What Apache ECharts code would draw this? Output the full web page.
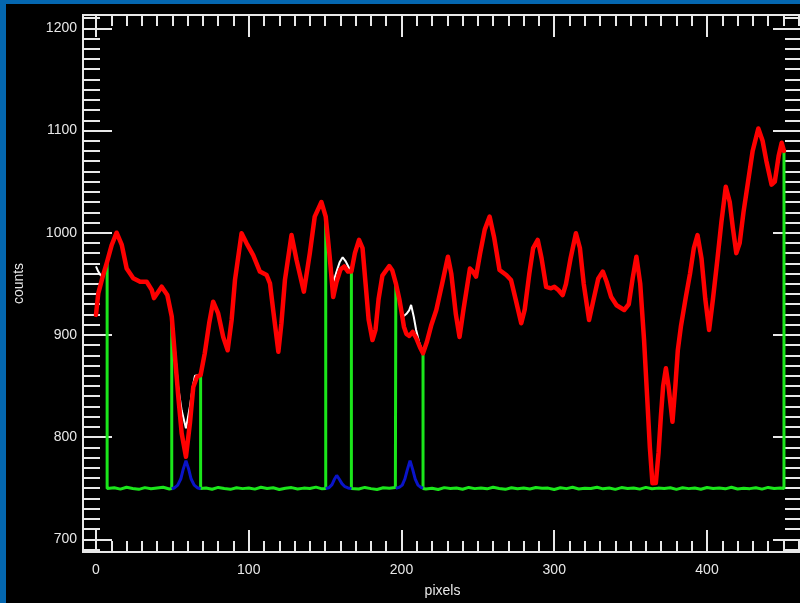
<!DOCTYPE html>
<html><head><meta charset="utf-8">
<script src="https://cdn.jsdelivr.net/npm/echarts@6/dist/echarts.min.js"></script>
<style>
html,body{margin:0;padding:0;background:#000;}
#c{position:absolute;left:0;top:0;width:800px;height:603px;}
#bl{position:absolute;left:0;top:0;width:6px;height:603px;background:#0467b0;}
#bt{position:absolute;left:0;top:0;width:800px;height:4px;background:#0467b0;}
</style>
</head><body><div id="c"></div><div id="bl"></div><div id="bt"></div>
<script>
// ---- data ----
const xTickLabels = [0, 100, 200, 300, 400];
const yTickLabels = [700, 800, 900, 1000, 1100, 1200];

const redX = [0, 1.5, 4.4, 7.3, 10.3, 13.5, 16.9, 20.1, 24.4, 28.9,
  33.2, 36.5, 38, 43, 46.7, 49.6, 51.7, 53.9, 56.1, 58.9,
  61.5, 63.7, 66.2, 68.5, 71.2, 74.1, 76.7, 80, 83.3, 86.2,
  88.8, 91, 95.3, 98.6, 102.9, 107.3, 111.7, 113.9, 116, 119.4,
  121.4, 123.7, 128, 131.3, 136.1, 140, 143.2, 147.6, 150.4, 153,
  155.3, 157.5, 160, 162.5, 165, 167.2, 169.5, 172.2, 174.5, 176.5,
  178.5, 181, 183, 185, 187.5, 192, 194, 196.3, 198.6, 200,
  201.6, 203.2, 205.1, 207.3, 209.6, 212.1, 214.1, 216.6, 219.6, 222.8,
  226.6, 230.4, 232.6, 235.6, 238, 240.6, 244.8, 246.8, 248.8, 251.5,
  254.5, 257.7, 260.7, 264.2, 268.6, 271.7, 274.7, 278.4, 280.7, 283.7,
  286.2, 289.2, 291.7, 294.7, 297.9, 300.1, 302.7, 305.5, 307.7, 310.7,
  314.2, 316.8, 319.3, 322.8, 325.8, 328.8, 331.8, 334.3, 337.2, 340.8,
  345.8, 348.8, 351.3, 353.8, 356.3, 358.8, 360.8, 362.6, 364.3, 366.5,
  368.3, 369.8, 371.3, 373.1, 374.8, 377.4, 379.3, 380.9, 382.9, 386.2,
  388.9, 391.4, 393.8, 396.4, 398.9, 401.4, 403.9, 406.9, 409.4, 412.3,
  414.9, 416.9, 419.2, 421.4, 423.9, 426.9, 429.9, 433.6, 436.4, 438.9,
  442.3, 444.4, 446.9, 448.9, 450.4];
const redY = [919.6, 940.7, 957, 971.6, 988, 1000, 988, 965, 955.4, 952,
  952, 944, 936, 947.2, 939, 918, 878.7, 839.5, 803.7, 780.8,
  813.5, 849, 859, 860.8, 882, 911.4, 932.5, 921, 898, 885,
  914.6, 953.7, 999.4, 989.6, 978, 962, 958.6, 950.5, 924.4, 883.6,
  911.4, 953.7, 997.7, 973.3, 942.3, 980, 1015.7, 1030, 1015.7, 976.5,
  937, 952, 964, 967, 962, 962, 980, 993, 985, 950,
  915, 895, 905, 935, 958, 967.4, 963, 950.5, 935, 922.7,
  908, 901, 899, 903, 897, 888, 882, 893, 910, 924.4,
  950, 976.5, 960, 920, 898, 925, 965, 962, 957, 980,
  1003, 1015.7, 995, 963.5, 958.6, 953.7, 935, 911.4, 925, 960,
  985, 993, 975, 947, 945.6, 947, 944, 939, 950, 975,
  999.4, 985, 950, 914.6, 935, 955, 962, 952, 937.4, 929,
  924.4, 930, 955, 976.5, 950, 895, 840, 790, 754.8, 755,
  785, 820, 850, 867.3, 850, 815, 850, 885, 908, 937.4,
  960, 985, 997.7, 975, 935, 904.8, 935, 975, 1010, 1045,
  1030, 1005, 980, 990, 1020, 1050, 1080, 1102, 1090, 1070,
  1047, 1050, 1075, 1088, 1080];

// raw data where it differs from the corrected (red) curve; null = gap
const whiteX = [0, 1.5, 3, 4.4, null,
  49.6, 51.7, 53.8, 56.1, 58.9, 61.5, 63.7, 64.8, 68.5, null,
  153, 155.3, 157.5, 159.5, 161.5, 163.5, 165.5, 167.2, null,
  196.3, 198.6, 200, 201.5, 203.5, 205, 206.3, 208, 209.6, 211.5, 214.1];
const whiteY = [967, 962, 958.5, 957, null,
  918, 885, 849, 826, 808.6, 830, 852, 860, 860.8, null,
  976.5, 951, 962, 971, 976, 972, 966, 962, null,
  950.5, 935, 922.7, 918.5, 921, 924, 929.3, 918, 904.8, 893, 882];

// fitted line profiles (blue)
const blueX = [49.6, 51.5, 53.5, 55.5, 57, 58.9, 60.8, 62.3, 64.3, 66.3, 68.5, null,
  150.4, 152.5, 154.5, 156, 157.6, 159.2, 161, 163, 165, 167.2, null,
  196.3, 198.5, 200.5, 202.2, 203.8, 205.6, 207.4, 209, 210.8, 212.7, 214.1];
const blueY = [749.5, 750.5, 753, 759, 768, 777, 768, 759, 753, 750.5, 749.5, null,
  749.8, 750.5, 753.5, 758.5, 762.5, 759, 754.5, 751.5, 750.3, 749.6, null,
  750, 750.8, 753, 759, 768, 777, 768, 759, 753, 750.8, 750];

// continuum (green) baseline, sampled every 4 pixels from x=8
const baseStart = 8, baseStep = 4;
const baseY = [749.6, 750.4, 749.1, 750.9, 749.8, 748.9, 750.6, 749.4, 750.2, 751.0,
  749.3, 750.1, 748.8, 749.9, 750.7, 749.5, 750.3, 749.0, 750.8, 749.7,
  748.9, 750.5, 749.6, 750.2, 749.1, 750.9, 749.8, 750.4, 748.7, 749.9,
  750.6, 749.3, 750.1, 749.8, 751.1, 749.4, 750.0, 748.9, 750.5, 749.7,
  750.3, 749.2, 750.8, 749.6, 748.8, 750.4, 749.9, 750.7, 749.1, 750.2,
  749.5, 750.9, 749.3, 750.0, 748.8, 750.6, 749.7, 750.3, 749.0, 750.8,
  749.6, 750.2, 749.4, 751.0, 749.8, 748.9, 750.5, 749.5, 750.3, 749.2,
  750.7, 749.9, 750.1, 748.8, 750.4, 749.6, 750.9, 749.3, 750.0, 749.7,
  751.0, 749.4, 750.2, 748.9, 750.6, 749.8, 750.3, 749.1, 750.8, 749.5,
  750.1, 749.7, 750.5, 748.9, 750.4, 749.6, 750.2, 749.0, 750.7, 749.8,
  750.3, 749.4, 750.9, 749.2, 750.0, 749.6, 750.5, 749.1, 750.8, 749.7,
  750.2];
// continuum windows: [start, end] pairs, with the curve value at each edge
const maskEdges = [7.3, 49.6, 68.5, 150.4, 167.2, 196.3, 214.1, 450.4];
const maskEdgeTop = [971.6, 918, 860.8, 1015.7, 962, 950.5, 882, 1080];
const edgeBase = 749.8;

// ---- build ----
const pairs = (xs, ys) => xs.map((x, i) => [x, ys[i]]);
const redData = pairs(redX, redY);
const whiteData = pairs(whiteX, whiteY);
const blueData = pairs(blueX, blueY);
const greenData = [];
for (let k = 0; k < maskEdges.length; k += 2) {
  const a = maskEdges[k], b = maskEdges[k + 1];
  greenData.push([a, maskEdgeTop[k]], [a, edgeBase]);
  baseY.forEach((v, i) => {
    const x = baseStart + baseStep * i;
    if (x > a && x < b) greenData.push([x, v]);
  });
  greenData.push([b, edgeBase], [b, maskEdgeTop[k + 1]], [null, null]);
}

const xMin = -8.5, xMax = 462.2, yMin = 687.6, yMax = 1213;
const xMinor = [], yMinor = [];
for (let v = 10; v <= 460; v += 10) xMinor.push(v);
for (let v = 690; v <= 1210; v += 10) yMinor.push(v);

const AX = '#e8e8e8';
const FONT = 'Liberation Sans, Arial, sans-serif';
const plain = v => String(Math.round(v));

function xAx(pos, ticks, len, label) {
  return {
    type: 'value', position: pos, min: xMin, max: xMax,
    axisLine: { show: true, onZero: false, lineStyle: { color: AX, width: 2 } },
    axisTick: { show: true, inside: true, length: len, customValues: ticks, lineStyle: { color: AX, width: 2 } },
    axisLabel: label ? { show: true, customValues: ticks, formatter: plain, color: AX, fontSize: 14, fontFamily: FONT, margin: 11 } : { show: false },
    splitLine: { show: false },
    name: label ? 'pixels' : '', nameLocation: 'middle', nameGap: 32,
    nameTextStyle: { color: AX, fontSize: 14, fontFamily: FONT }
  };
}
function yAx(pos, ticks, len, label) {
  return {
    type: 'value', position: pos, min: yMin, max: yMax,
    axisLine: { show: true, onZero: false, lineStyle: { color: AX, width: 2 } },
    axisTick: { show: true, inside: true, length: len, customValues: ticks, lineStyle: { color: AX, width: 2 } },
    axisLabel: label ? { show: true, customValues: ticks, formatter: plain, color: AX, fontSize: 14, fontFamily: FONT, margin: 6 } : { show: false },
    splitLine: { show: false },
    name: label ? 'counts' : '', nameLocation: 'middle', nameRotate: 90, nameGap: 57,
    nameTextStyle: { color: AX, fontSize: 14, fontFamily: FONT }
  };
}

const chart = echarts.init(document.getElementById('c'), null, { renderer: 'canvas' });
chart.setOption({
  backgroundColor: '#000',
  animation: false,
  grid: { left: 83, top: 15, width: 719, height: 537, containLabel: false, outerBoundsMode: 'none' },
  xAxis: [
    xAx('bottom', xTickLabels, 22, true),
    xAx('top', xTickLabels, 22, false),
    xAx('bottom', xMinor, 11, false),
    xAx('top', xMinor, 11, false)
  ],
  yAxis: [
    yAx('left', yTickLabels, 29, true),
    yAx('right', yTickLabels, 29, false),
    yAx('left', yMinor, 17, false),
    yAx('right', yMinor, 17, false)
  ],
  series: [
    { type: 'line', data: greenData, symbol: 'none', connectNulls: false, silent: true, z: 2,
      lineStyle: { color: '#1be61b', width: 3 } },
    { type: 'line', data: blueData, symbol: 'none', connectNulls: false, silent: true, z: 3,
      lineStyle: { color: '#0a14c8', width: 3 } },
    { type: 'line', data: whiteData, symbol: 'none', connectNulls: false, silent: true, z: 4,
      lineStyle: { color: '#ffffff', width: 2 } },
    { type: 'line', data: redData, symbol: 'none', silent: true, z: 5,
      lineStyle: { color: '#ff0000', width: 4.5, join: 'round', cap: 'round' } }
  ]
});
</script></body></html>
